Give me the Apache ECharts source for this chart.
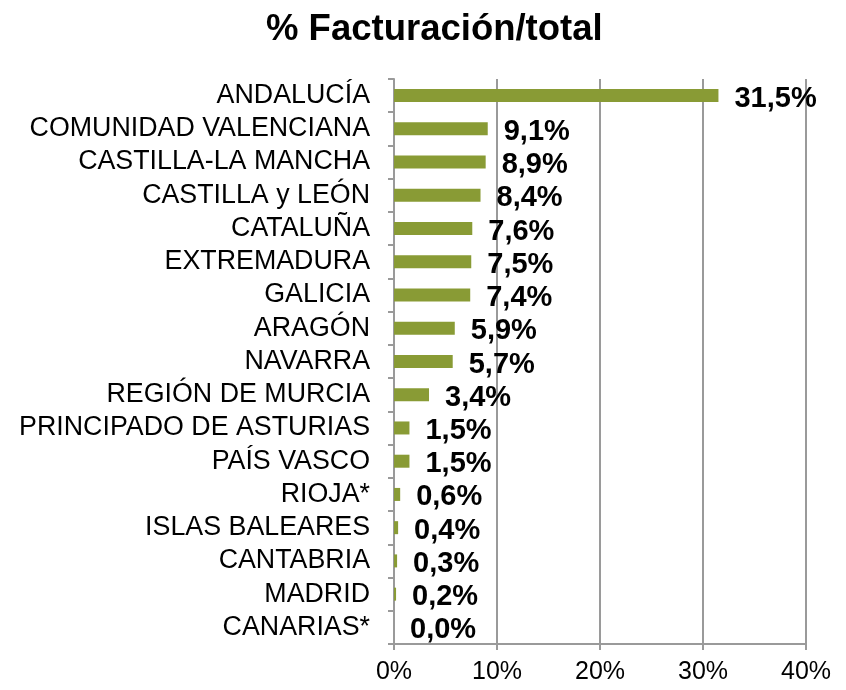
<!DOCTYPE html>
<html>
<head>
<meta charset="utf-8">
<script src="https://cdn.jsdelivr.net/npm/echarts@6/dist/echarts.min.js"></script>
<style>html,body{margin:0;padding:0;background:#fff;}#c{width:846px;height:690px;}</style>
</head>
<body>
<div id="c"></div>
<script>
const categories = ["ANDALUCÍA","COMUNIDAD VALENCIANA","CASTILLA-LA MANCHA","CASTILLA y LEÓN","CATALUÑA","EXTREMADURA","GALICIA","ARAGÓN","NAVARRA","REGIÓN DE MURCIA","PRINCIPADO DE ASTURIAS","PAÍS VASCO","RIOJA*","ISLAS BALEARES","CANTABRIA","MADRID","CANARIAS*"];
const values = [31.5, 9.1, 8.9, 8.4, 7.6, 7.5, 7.4, 5.9, 5.7, 3.4, 1.5, 1.5, 0.6, 0.4, 0.3, 0.2, 0.0];
const xTicks = [0, 10, 20, 30, 40];
const titleText = "% Facturación/total";

const FONT = "'Liberation Sans', Arial, sans-serif";
const chart = echarts.init(document.getElementById('c'), null, {renderer: 'canvas'});
chart.setOption({
  animation: false,
  backgroundColor: '#ffffff',
  title: {
    text: titleText,
    left: 261, top: 6,
    textStyle: {fontFamily: FONT, fontSize: 36.5, fontWeight: 'bold', color: '#000'}
  },
  grid: {left: 394, right: 40, top: 79, bottom: 46, containLabel: false},
  xAxis: {
    type: 'value', min: xTicks[0], max: xTicks[xTicks.length-1], interval: 10,
    axisLine: {show: true, lineStyle: {color: '#9a9a9a', width: 2}},
    axisTick: {show: true, length: 6, lineStyle: {color: '#9a9a9a', width: 2}},
    splitLine: {show: true, lineStyle: {color: '#9a9a9a', width: 2}},
    axisLabel: {margin: 16, fontFamily: FONT, fontSize: 25, color: '#000', formatter: v => v + '%'}
  },
  yAxis: {
    type: 'category', data: categories, inverse: true,
    axisLine: {show: true, lineStyle: {color: '#9a9a9a', width: 2}},
    axisTick: {show: true, length: 6, interval: 0, lineStyle: {color: '#9a9a9a', width: 2}},
    axisLabel: {interval: 0, margin: 24, fontFamily: FONT, fontSize: 26.8, color: '#000', padding: [4, 0, 0, 0]}
  },
  series: [{
    type: 'bar', data: values, barWidth: 13,
    itemStyle: {color: '#899B35'},
    label: {
      show: true, position: 'right', distance: 16, offset: [0, 3],
      fontFamily: FONT, fontSize: 29, fontWeight: 'bold', color: '#000',
      formatter: p => p.value.toFixed(1).replace('.', ',') + '%'
    }
  }]
});
</script>
</body>
</html>
